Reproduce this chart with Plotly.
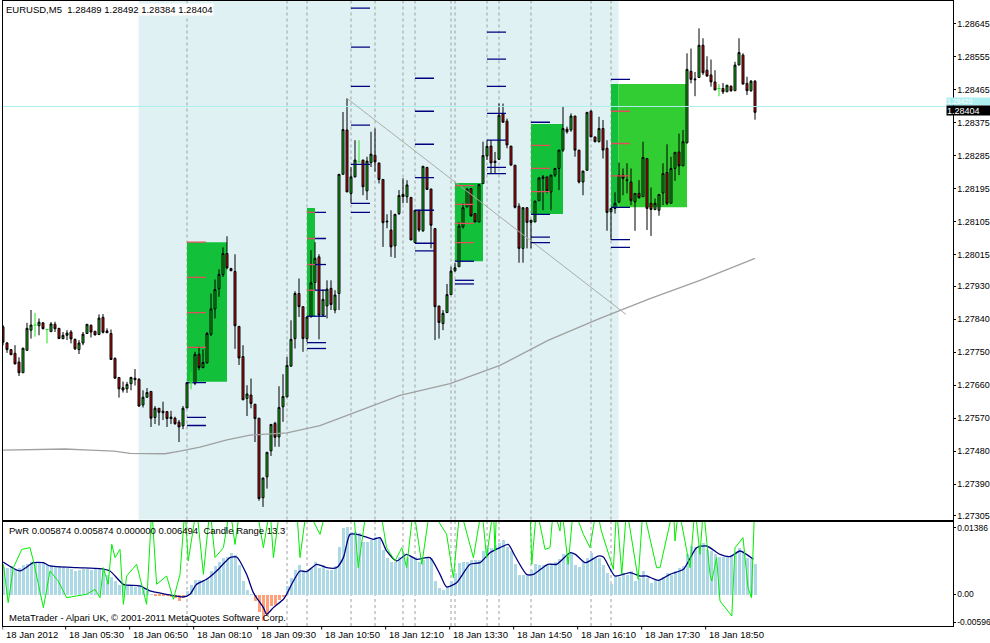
import plotly.graph_objects as go

W, H = 990, 643
FONT = "Liberation Sans"

# ---------------- data ----------------
time_tick_idx = [0, 15, 31, 47, 63, 79, 95, 111, 127, 143, 159, 175]
time_tick_text = ["18 Jan 2012", "18 Jan 05:30", "18 Jan 06:50", "18 Jan 08:10", "18 Jan 09:30",
                  "18 Jan 10:50", "18 Jan 12:10", "18 Jan 13:30", "18 Jan 14:50", "18 Jan 16:10",
                  "18 Jan 17:30", "18 Jan 18:50"]

open_ = [
    1.27819, 1.27775, 1.27757, 1.27747, 1.27723, 1.27694, 1.27755, 1.27810, 1.27824, 1.27822,
    1.27830, 1.27812, 1.27806, 1.27826, 1.27815, 1.27787, 1.27796, 1.27805, 1.27785, 1.27757,
    1.27775, 1.27801, 1.27823, 1.27807, 1.27798, 1.27845, 1.27808, 1.27801, 1.27733, 1.27681,
    1.27653, 1.27650, 1.27664, 1.27679, 1.27676, 1.27606, 1.27627, 1.27643, 1.27572, 1.27597,
    1.27589, 1.27588, 1.27573, 1.27570, 1.27559, 1.27549, 1.27598, 1.27667, 1.27665, 1.27744,
    1.27708, 1.27721, 1.27799, 1.27868, 1.27923, 1.27962, 1.28019, 1.27978, 1.27970, 1.27820,
    1.27738, 1.27624, 1.27633, 1.27608, 1.27570, 1.27353, 1.27410, 1.27481, 1.27556, 1.27519,
    1.27601, 1.27628, 1.27712, 1.27787, 1.27910, 1.27874, 1.27787, 1.27846, 1.27940, 1.28010,
    1.27851, 1.27876, 1.27924, 1.27865, 1.27910, 1.28235, 1.28356, 1.28183, 1.28228, 1.28269,
    1.28274, 1.28190, 1.28267, 1.28287, 1.28266, 1.28221, 1.28105, 1.28083, 1.28040, 1.28128,
    1.28174, 1.28174, 1.28172, 1.28049, 1.28137, 1.28081, 1.28254, 1.28195, 1.28087, 1.27876,
    1.27828, 1.27858, 1.27907, 1.27972, 1.27983, 1.28092, 1.28146, 1.28196, 1.28128, 1.28105,
    1.28210, 1.28285, 1.28312, 1.28271, 1.28276, 1.28401, 1.28380, 1.28312, 1.28260, 1.28148,
    1.28033, 1.28144, 1.28104, 1.28105, 1.28163, 1.28228, 1.28228, 1.28187, 1.28233, 1.28251,
    1.28301, 1.28358, 1.28356, 1.28394, 1.28301, 1.28214, 1.28246, 1.28407, 1.28337, 1.28324,
    1.28360, 1.28306, 1.28133, 1.28142, 1.28160, 1.28233, 1.28220, 1.28214, 1.28160, 1.28183,
    1.28174, 1.28278, 1.28156, 1.28139, 1.28137, 1.28184, 1.28240, 1.28156, 1.28251, 1.28296,
    1.28258, 1.28321, 1.28516, 1.28495, 1.28499, 1.28587, 1.28519, 1.28506, 1.28487, 1.28469,
    1.28469, 1.28460, 1.28475, 1.28463, 1.28533, 1.28560, 1.28483, 1.28463, 1.28489]

high = [
    1.27824, 1.27778, 1.27758, 1.27769, 1.27736, 1.27761, 1.27830, 1.27865, 1.27857, 1.27842,
    1.27832, 1.27812, 1.27832, 1.27833, 1.27816, 1.27805, 1.27810, 1.27810, 1.27787, 1.27783,
    1.27805, 1.27826, 1.27826, 1.27807, 1.27853, 1.27854, 1.27815, 1.27812, 1.27736, 1.27681,
    1.27670, 1.27669, 1.27683, 1.27704, 1.27679, 1.27646, 1.27652, 1.27643, 1.27603, 1.27597,
    1.27615, 1.27588, 1.27590, 1.27574, 1.27565, 1.27603, 1.27667, 1.27696, 1.27751, 1.27765,
    1.27758, 1.27805, 1.27910, 1.27948, 1.27976, 1.28036, 1.28066, 1.27980, 1.28017, 1.27822,
    1.27769, 1.27660, 1.27678, 1.27608, 1.27570, 1.27407, 1.27477, 1.27553, 1.27560, 1.27657,
    1.27690, 1.27737, 1.27837, 1.27916, 1.27951, 1.27874, 1.27848, 1.28028, 1.28050, 1.28017,
    1.27921, 1.27946, 1.27946, 1.27919, 1.28235, 1.28405, 1.28442, 1.28255, 1.28328, 1.28328,
    1.28274, 1.28283, 1.28351, 1.28360, 1.28266, 1.28221, 1.28126, 1.28137, 1.28126, 1.28192,
    1.28224, 1.28219, 1.28172, 1.28137, 1.28137, 1.28257, 1.28254, 1.28195, 1.28087, 1.27876,
    1.27865, 1.27936, 1.27983, 1.27994, 1.28105, 1.28156, 1.28196, 1.28196, 1.28128, 1.28207,
    1.28324, 1.28328, 1.28328, 1.28296, 1.28428, 1.28428, 1.28387, 1.28312, 1.28260, 1.28156,
    1.28144, 1.28144, 1.28110, 1.28162, 1.28228, 1.28233, 1.28228, 1.28233, 1.28251, 1.28301,
    1.28419, 1.28365, 1.28401, 1.28394, 1.28301, 1.28244, 1.28404, 1.28410, 1.28337, 1.28392,
    1.28383, 1.28328, 1.28142, 1.28186, 1.28267, 1.28251, 1.28265, 1.28251, 1.28183, 1.28219,
    1.28324, 1.28278, 1.28199, 1.28169, 1.28180, 1.28265, 1.28317, 1.28283, 1.28295, 1.28346,
    1.28356, 1.28565, 1.28578, 1.28514, 1.28633, 1.28606, 1.28557, 1.28548, 1.28519, 1.28481,
    1.28484, 1.28478, 1.28478, 1.28542, 1.28606, 1.28565, 1.28501, 1.28492, 1.28492]

low = [
    1.27769, 1.27748, 1.27742, 1.27717, 1.27685, 1.27693, 1.27755, 1.27787, 1.27792, 1.27796,
    1.27812, 1.27774, 1.27805, 1.27805, 1.27786, 1.27785, 1.27783, 1.27774, 1.27756, 1.27745,
    1.27769, 1.27801, 1.27790, 1.27796, 1.27797, 1.27801, 1.27803, 1.27730, 1.27678, 1.27626,
    1.27640, 1.27639, 1.27646, 1.27659, 1.27601, 1.27599, 1.27627, 1.27546, 1.27554, 1.27550,
    1.27565, 1.27546, 1.27554, 1.27552, 1.27505, 1.27540, 1.27598, 1.27649, 1.27660, 1.27701,
    1.27706, 1.27719, 1.27794, 1.27842, 1.27901, 1.27955, 1.27976, 1.27972, 1.27759, 1.27715,
    1.27620, 1.27576, 1.27597, 1.27505, 1.27345, 1.27328, 1.27378, 1.27467, 1.27492, 1.27492,
    1.27560, 1.27628, 1.27710, 1.27760, 1.27846, 1.27751, 1.27778, 1.27846, 1.27919, 1.27785,
    1.27848, 1.27842, 1.27865, 1.27856, 1.27865, 1.28235, 1.28187, 1.28156, 1.28227, 1.28269,
    1.28178, 1.28165, 1.28255, 1.28242, 1.28210, 1.28037, 1.28088, 1.28010, 1.28007, 1.28124,
    1.28156, 1.28157, 1.28056, 1.28047, 1.28078, 1.28078, 1.28192, 1.28033, 1.27783, 1.27787,
    1.27810, 1.27858, 1.27907, 1.27969, 1.27983, 1.28087, 1.28146, 1.28119, 1.28105, 1.28105,
    1.28208, 1.28274, 1.28237, 1.28237, 1.28274, 1.28377, 1.28306, 1.28260, 1.28142, 1.27994,
    1.27994, 1.28033, 1.28033, 1.28105, 1.28163, 1.28137, 1.28183, 1.28137, 1.28228, 1.28192,
    1.28296, 1.28346, 1.28351, 1.28283, 1.28210, 1.28178, 1.28246, 1.28337, 1.28322, 1.28322,
    1.28278, 1.28081, 1.28056, 1.28128, 1.28156, 1.28178, 1.28183, 1.28151, 1.28081, 1.28169,
    1.28174, 1.28083, 1.28067, 1.28137, 1.28122, 1.28151, 1.28151, 1.28156, 1.28217, 1.28233,
    1.28258, 1.28319, 1.28483, 1.28448, 1.28499, 1.28506, 1.28501, 1.28474, 1.28465, 1.28448,
    1.28454, 1.28460, 1.28460, 1.28463, 1.28533, 1.28481, 1.28451, 1.28460, 1.28384]

close = [
    1.27777, 1.27757, 1.27743, 1.27718, 1.27694, 1.27761, 1.27815, 1.27824, 1.27824, 1.27832,
    1.27814, 1.27812, 1.27827, 1.27814, 1.27787, 1.27796, 1.27802, 1.27786, 1.27759, 1.27775,
    1.27799, 1.27826, 1.27805, 1.27797, 1.27843, 1.27804, 1.27803, 1.27730, 1.27679, 1.27650,
    1.27647, 1.27662, 1.27681, 1.27675, 1.27603, 1.27627, 1.27640, 1.27570, 1.27597, 1.27586,
    1.27585, 1.27569, 1.27569, 1.27555, 1.27546, 1.27597, 1.27667, 1.27667, 1.27744, 1.27708,
    1.27722, 1.27801, 1.27868, 1.27921, 1.27962, 1.28019, 1.27980, 1.27972, 1.27822, 1.27734,
    1.27620, 1.27636, 1.27610, 1.27569, 1.27351, 1.27407, 1.27477, 1.27553, 1.27518, 1.27599,
    1.27629, 1.27714, 1.27785, 1.27910, 1.27874, 1.27787, 1.27846, 1.27939, 1.28006, 1.27851,
    1.27894, 1.27922, 1.27880, 1.27906, 1.28235, 1.28357, 1.28187, 1.28228, 1.28274, 1.28269,
    1.28201, 1.28271, 1.28290, 1.28269, 1.28221, 1.28103, 1.28107, 1.28037, 1.28126, 1.28177,
    1.28180, 1.28206, 1.28056, 1.28137, 1.28083, 1.28257, 1.28194, 1.28096, 1.27874, 1.27831,
    1.27856, 1.27907, 1.27971, 1.27980, 1.28094, 1.28144, 1.28195, 1.28122, 1.28105, 1.28207,
    1.28286, 1.28311, 1.28266, 1.28267, 1.28396, 1.28377, 1.28315, 1.28260, 1.28145, 1.28033,
    1.28144, 1.28104, 1.28110, 1.28162, 1.28225, 1.28224, 1.28190, 1.28233, 1.28251, 1.28301,
    1.28360, 1.28351, 1.28394, 1.28301, 1.28214, 1.28244, 1.28404, 1.28337, 1.28324, 1.28360,
    1.28301, 1.28131, 1.28142, 1.28156, 1.28233, 1.28224, 1.28218, 1.28163, 1.28183, 1.28171,
    1.28281, 1.28142, 1.28139, 1.28156, 1.28180, 1.28237, 1.28156, 1.28251, 1.28295, 1.28258,
    1.28324, 1.28521, 1.28494, 1.28493, 1.28587, 1.28512, 1.28503, 1.28487, 1.28465, 1.28469,
    1.28460, 1.28478, 1.28463, 1.28533, 1.28567, 1.28481, 1.28463, 1.28489, 1.28404]

doji_idx = [8, 11, 47, 89, 179]          # open == close, drawn as lime crosses

ma_idx = [0, 15.5, 21.75, 27.75, 31.75, 40.5, 44.25, 49.25, 56, 61.75, 71, 79.25,
          99.25, 111.75, 124.25, 136.25, 149.25, 161.75, 174.25, 188]
ma_val = [1.27483, 1.27486, 1.27483, 1.27480, 1.27474, 1.27473, 1.27480, 1.27491, 1.27511,
          1.27524, 1.27530, 1.27550, 1.27632, 1.27664, 1.27714, 1.27782, 1.27842, 1.27896,
          1.27946, 1.28006]

trend_idx = [86, 155.75]
trend_val = [1.28442, 1.27853]

hline_level = 1.28420
bid_price = 1.28404

shade_span = [33.9, 153.9]
dash_idx = [46, 71, 76, 87, 93, 100, 103, 112, 113, 121, 124, 132, 147, 152]

box_x0 = [46, 76, 113, 132, 152]
box_x1 = [56, 78, 120, 140, 171]
box_top = [1.28050, 1.28143, 1.28211, 1.28372, 1.28481]
box_bot = [1.27669, 1.27848, 1.27998, 1.28127, 1.28145]

red_x0 = [46, 46, 46, 46, 76, 76, 76, 76, 113, 113, 113, 113, 132, 132, 132, 152, 152, 152]
red_x1 = [50.75] * 4 + [78] * 4 + [117.75] * 4 + [136.75] * 3 + [156.75] * 3
red_price = [1.28050, 1.27954, 1.27858, 1.27763, 1.28131, 1.28060, 1.27989, 1.27919,
             1.28204, 1.28153, 1.28101, 1.28049, 1.28314, 1.28251, 1.28188,
             1.28407, 1.28319, 1.28231]

navy_x0 = ([46] * 3 + [76] * 3 + [78] * 4 + [87] * 7 + [103] * 7 + [113] * 3 + [121] * 7
           + [132] * 4 + [152] * 4)
navy_x1 = ([50.75] * 3 + [80.75] * 3 + [80.75] * 4 + [91.75] * 7 + [107.75] * 7 + [117.75] * 3
           + [125.75] * 7 + [136.75] * 4 + [156.75] * 4)
navy_price = [1.27667, 1.27572, 1.27550,
              1.27848, 1.27776, 1.27760,
              1.28131, 1.28060, 1.27989, 1.27919,
              1.28688, 1.28582, 1.28475, 1.28369, 1.28262, 1.28156, 1.28131,
              1.28497, 1.28407, 1.28317, 1.28226, 1.28137, 1.28047, 1.28026,
              1.27998, 1.27946, 1.27936,
              1.28623, 1.28549, 1.28475, 1.28401, 1.28328, 1.28254, 1.28237,
              1.28377, 1.28126, 1.28064, 1.28049,
              1.28494, 1.28145, 1.28057, 1.28036]

price_ticks = [1.28645, 1.28555, 1.28465, 1.28375, 1.28285, 1.28195, 1.28105, 1.28015,
               1.27930, 1.27840, 1.27750, 1.27660, 1.27570, 1.27480, 1.27390, 1.27305]

# indicator (PwR) histogram, one value per bar
pwr_hist = [
    0.00527, 0.00508, 0.00540, 0.00476, 0.00508, 0.00559, 0.00584, 0.00635, 0.00616, 0.00616,
    0.00603, 0.00572, 0.00559, 0.00540, 0.00540, 0.00521, 0.00508, 0.00489, 0.00445, 0.00476,
    0.00495, 0.00495, 0.00476, 0.00495, 0.00508, 0.00476, 0.00381, 0.00349, 0.00254, 0.00191,
    0.00178, 0.00159, 0.00159, 0.00140, 0.00159, 0.00127, 0.00076, 0.00013, -0.00032, -0.00013,
    -0.00032, -0.00032, -0.00051, -0.00064, -0.00114, -0.00051, 0.00064, 0.00178, 0.00286, 0.00286,
    0.00286, 0.00330, 0.00445, 0.00540, 0.00635, 0.00699, 0.00730, 0.00794, 0.00762, 0.00572,
    0.00254, 0.00095, 0.00013, -0.00114, -0.00318, -0.00495, -0.00381, -0.00222, -0.00191, -0.00095,
    -0.00051, 0.00159, 0.00318, 0.00476, 0.00572, 0.00476, 0.00445, 0.00508, 0.00635, 0.00508,
    0.00572, 0.00476, 0.00476, 0.00540, 0.00921, 0.01270, 0.01302, 0.01207, 0.01207, 0.01175,
    0.01016, 0.01016, 0.01048, 0.01111, 0.01080, 0.00857, 0.00699, 0.00635, 0.00635, 0.00730,
    0.00794, 0.00699, 0.00730, 0.00730, 0.00635, 0.00667, 0.00730, 0.00699, 0.00254, 0.00127,
    0.00095, 0.00159, 0.00254, 0.00413, 0.00603, 0.00635, 0.00635, 0.00667, 0.00667, 0.00667,
    0.00826, 0.00889, 0.00889, 0.00953, 0.00984, 0.01048, 0.00921, 0.00826, 0.00584, 0.00381,
    0.00381, 0.00381, 0.00476, 0.00584, 0.00572, 0.00572, 0.00572, 0.00603, 0.00635, 0.00686,
    0.00775, 0.00730, 0.00794, 0.00572, 0.00521, 0.00635, 0.00711, 0.00794, 0.00699, 0.00699,
    0.00572, 0.00413, 0.00203, 0.00381, 0.00349, 0.00413, 0.00381, 0.00445, 0.00254, 0.00330,
    0.00445, 0.00318, 0.00222, 0.00286, 0.00286, 0.00349, 0.00413, 0.00381, 0.00445, 0.00508,
    0.00540, 0.00775, 0.00940, 0.00921, 0.00953, 0.00984, 0.00857, 0.00826, 0.00775, 0.00730,
    0.00730, 0.00730, 0.00762, 0.00794, 0.00889, 0.00826, 0.00699, 0.00686, 0.00584]

signal_idx = [0, 4.25, 7.6, 10.1, 11.75, 18.4, 24.25, 26.75, 30.1, 34.25, 36.75, 40.9, 45.1, 46.75,
              48.4, 50.9, 53.4, 56.75, 58.4, 60.9, 62.6, 65.1, 65.9, 67.6, 70.1, 70.9, 72.6, 74.25,
              75.9, 78.4, 80.9, 83.4, 85.1, 86.75, 89.25, 92.6, 94.25, 95.9, 98.4, 100.9, 103.4,
              106.75, 109.25, 110.9, 113.4, 116.75, 119.25, 121.75, 124.25, 126.3, 128, 130.9,
              132.6, 136.2, 138.4, 141.8, 143.1, 145.6, 148.8, 150.1, 153, 156.75, 159.25, 160.9,
              163.8, 166.75, 170.1, 173.4, 175.9, 179.25, 181.75, 184.25, 187.6]
signal_val = [0.00616, 0.00445, 0.00603, 0.00603, 0.00540, 0.00508, 0.00489, 0.00445, 0.00191,
              0.00159, 0.00064, 0.0, -0.00051, 0.0, 0.00191, 0.00286, 0.00445, 0.00699, 0.00711,
              0.00381, 0.00032, -0.00254, -0.00381, -0.00254, -0.00095, 0.0, 0.00254, 0.00445,
              0.00432, 0.00572, 0.00508, 0.00508, 0.00699, 0.01143, 0.01130, 0.01048, 0.01080,
              0.00826, 0.00635, 0.00762, 0.00667, 0.00699, 0.00381, 0.00140, 0.00222, 0.00572,
              0.00603, 0.00794, 0.00889, 0.00953, 0.00730, 0.00381, 0.00381, 0.00572, 0.00572,
              0.00794, 0.00762, 0.00603, 0.00730, 0.00711, 0.00349, 0.00413, 0.00349, 0.00349,
              0.00267, 0.00381, 0.00476, 0.00889, 0.00921, 0.00762, 0.00718, 0.00826, 0.00667]

T = 0.0165  # value above the panel top (line clipped there)
range_idx = [0.1, 1.3, 2.6, 4.7, 6.75, 7.6, 10.1, 11.75, 13.8, 15.9, 18.4, 20.9, 23, 24.25, 25.1,
             26.3, 27.2, 28, 29.25, 30.1, 30.9, 33.4, 35.9, 37.2, 38.4, 40.9, 42.6, 44.25, 45.5,
             46.3, 48.4, 50.1, 51.75, 53.0, 55.1, 56.75, 58.0, 59.25, 61.75, 63.4, 65.1, 66.75,
             67.6, 69.25, 71.75, 73.4, 74.25, 75.9, 79.25, 80.9, 87.6, 88.8, 90.9, 94.25, 95.9,
             98, 99.7, 100.9, 102.6, 104.7, 106.75, 110.9, 112.6, 114.25, 117.6, 119.7, 120.9,
             122.6, 123.0, 123.4, 131.75, 132.2, 133.4, 135.5, 136.75, 137.6, 139.25, 139.7,
             141.3, 142.6, 145.1, 146.75, 148.4, 149.6, 152.6, 153.4, 154.7, 155.9, 158.8, 160,
             163.4, 164.25, 167.6, 168, 168.9, 171.75, 173, 174.25, 175.1, 176.75, 177.2, 178.4,
             179.25, 182.2, 183, 184.6, 185, 186.25, 187.1, 187.9]
range_val = [0.00572, -0.00159, 0.00508, 0.00857, 0.00889, 0.00635, -0.00254, 0.00445, 0.00254,
             -0.00064, -0.00032, 0.0, 0.00095, -0.00064, 0.00508, 0.00191, 0.00953, 0.00699,
             0.00857, -0.00191, 0.00349, 0.00572, -0.00191, T, 0.00191, 0.00349, -0.00095,
             0.00381, T, 0.00635, T, 0.00381, T, 0.00700, 0.00889, T, 0.00950, T, T, T, 0.00889,
             T, 0.00699, T, T, T, 0.00699, T, 0.01143, T, T, 0.00508, T, T, 0.00889, 0.00635,
             0.00889, 0.00508, T, 0.00572, T, 0.01143, 0.00318, T, 0.00699, T, 0.00699, T,
             0.00826, T, T, 0.00572, T, 0.00857, 0.00889, T, 0.01207, T, 0.00572, T, 0.01143,
             0.00889, T, 0.01207, 0.00476, T, 0.00381, T, 0.00286, T, 0.00508, 0.00508, T,
             0.01016, T, 0.00508, T, 0.00762, T, 0.00381, 0.00254, 0.00699, -0.00127, -0.00413,
             0.00889, 0.01048, 0.01080, 0.00127, -0.00064, T]

ind_tick_vals = [0.01267, 0.0, -0.00528]
ind_tick_text = ["0.01386", "0.00", "-0.00596"]

# ---------------- geometry ----------------
def py(v):  # pixel row -> paper fraction
    return 1 - v / H

XD = [2.5 / W, 952.5 / W]
XR = [-0.125, 237.375]
YD_MAIN = [py(519.5), py(0.5)]
YR_MAIN = [1.272937, 1.287090]
YD_IND = [py(626), py(521.5)]
YR_IND = [-0.00604, 0.01388]

SHADE = "#DFF1F3"
BOX_IN = "#12C03A"
BOX_OUT = "#32CD32"
fig = go.Figure()

# ---------------- shapes ----------------
shapes = [dict(type="rect", xref="x", yref="y domain", x0=shade_span[0], x1=shade_span[1],
               y0=0, y1=1, fillcolor=SHADE, line_width=0, layer="below")]
for d in dash_idx:
    shapes.append(dict(type="line", xref="x", yref="y domain", x0=d, x1=d, y0=0, y1=1,
                       line=dict(color="#A0A0A0", width=1, dash="3px,3px"), layer="below"))
    shapes.append(dict(type="line", xref="x2", yref="y2 domain", x0=d, x1=d, y0=0, y1=1,
                       line=dict(color="#A0A0A0", width=1, dash="3px,3px"), layer="below"))
for x0, x1, t, b in zip(box_x0, box_x1, box_top, box_bot):
    cut = min(max(shade_span[1], x0), x1)
    if cut > x0:
        shapes.append(dict(type="rect", xref="x", yref="y", x0=x0, x1=cut, y0=b, y1=t,
                           fillcolor=BOX_IN, line_width=0, layer="below"))
    if x1 > cut:
        shapes.append(dict(type="rect", xref="x", yref="y", x0=cut, x1=x1, y0=b, y1=t,
                           fillcolor=BOX_OUT, line_width=0, layer="below"))
for k, ti in enumerate(time_tick_idx):
    off = -0.1 if k == 0 else 0.67
    shapes.append(dict(type="line", xref="x2", yref="paper", x0=ti + off, x1=ti + off,
                       y0=py(626), y1=py(629.5), line=dict(color="black", width=1)))

# ---------------- main traces ----------------
def seg_trace(x0s, x1s, ys, color, width=1.3):
    xs, yv = [], []
    for a, b, p in zip(x0s, x1s, ys):
        xs += [a, b, None]
        yv += [p, p, None]
    return go.Scatter(x=xs, y=yv, mode="lines", line=dict(color=color, width=width),
                      hoverinfo="skip", xaxis="x", yaxis="y")

fig.add_trace(go.Scatter(x=XR, y=[hline_level, hline_level], mode="lines",
                         line=dict(color="#AFEEEE", width=1), hoverinfo="skip"))
fig.add_trace(go.Scatter(x=ma_idx, y=ma_val, mode="lines",
                         line=dict(color="#A0A0A0", width=1.3), hoverinfo="skip"))
fig.add_trace(go.Scatter(x=trend_idx, y=trend_val, mode="lines",
                         line=dict(color="#ABABAB", width=1), hoverinfo="skip"))
fig.add_trace(seg_trace(navy_x0, navy_x1, navy_price, "#000080"))
fig.add_trace(seg_trace(red_x0, red_x1, red_price, "#E0505A"))

cx, co, chh, cl, cc = [], [], [], [], []
for i in range(len(open_)):
    if i in doji_idx:
        continue
    cx.append(i); co.append(open_[i]); chh.append(high[i]); cl.append(low[i]); cc.append(close[i])
fig.add_trace(go.Candlestick(
    x=cx, open=co, high=chh, low=cl, close=cc, xaxis="x", yaxis="y",
    increasing=dict(fillcolor="#1FC41F", line=dict(color="black", width=1)),
    decreasing=dict(fillcolor="#CC1414", line=dict(color="black", width=1)),
    whiskerwidth=0, hoverinfo="skip"))

dx, dy = [], []
for i in doji_idx:
    dx += [i, i, None, i - 0.4, i + 0.4, None]
    dy += [low[i], high[i], None, open_[i], open_[i], None]
fig.add_trace(go.Scatter(x=dx, y=dy, mode="lines", line=dict(color="#22E022", width=1),
                         hoverinfo="skip"))

# ---------------- indicator traces ----------------
fig.add_trace(go.Bar(x=list(range(len(pwr_hist))), y=pwr_hist, width=0.6,
                     marker=dict(color=["#ADD8E6" if v >= 0 else "#FFA07A" for v in pwr_hist],
                                 line_width=0),
                     xaxis="x2", yaxis="y2", hoverinfo="skip"))
fig.add_trace(go.Scatter(x=signal_idx, y=signal_val, mode="lines",
                         line=dict(color="#000080", width=1.3, shape="spline", smoothing=0.6),
                         xaxis="x2", yaxis="y2", hoverinfo="skip"))
fig.add_trace(go.Scatter(x=range_idx, y=range_val, mode="lines",
                         line=dict(color="#00EE00", width=1),
                         xaxis="x2", yaxis="y2", hoverinfo="skip"))

# ---------------- annotations ----------------
tf = dict(family=FONT, size=9.5, color="black")
af = dict(family=FONT, size=9, color="black")
ann = []
for k, (ti, tt) in enumerate(zip(time_tick_idx, time_tick_text)):
    ann.append(dict(x=ti, xref="x", y=py(634), yref="paper", text=tt, showarrow=False,
                    xanchor="left", yanchor="middle", xshift=0.5 if k == 0 else 3.5, font=tf))
ann.append(dict(x=5 / W, xref="paper", y=py(9.5), yref="paper",
                text="EURUSD,M5&nbsp; 1.28489 1.28492 1.28384 1.28404", showarrow=False,
                xanchor="left", yanchor="middle", font=tf, bgcolor="white", borderpad=0))
ann.append(dict(x=7 / W, xref="paper", y=py(530), yref="paper",
                text="PwR 0.005874 0.005874 0.000000 0.006494&nbsp; Candle Range 13.3",
                showarrow=False, xanchor="left", yanchor="middle", font=tf))
ann.append(dict(x=7 / W, xref="paper", y=py(617), yref="paper",
                text="MetaTrader - Alpari UK, © 2001-2011 MetaQuotes Software Corp.",
                showarrow=False, xanchor="left", yanchor="middle", font=tf))
ann.append(dict(x=946 / W, xref="paper", y=py(101.5), yref="paper",
                text="1.28420", showarrow=False, xanchor="left", yanchor="middle",
                font=dict(family=FONT, size=7, color="white"), bgcolor="#AFEEEE",
                width=43, height=7, align="left", borderpad=0))
ann.append(dict(x=946 / W, xref="paper", y=py(110), yref="paper",
                text="1.28404", showarrow=False, xanchor="left", yanchor="middle",
                font=dict(family=FONT, size=9, color="white"), bgcolor="black",
                width=43, height=9, align="left", borderpad=0))

axis_common = dict(showline=True, mirror=True, linecolor="black", linewidth=1,
                   showgrid=False, zeroline=False, fixedrange=True)
fig.update_layout(
    width=W, height=H, margin=dict(l=0, r=0, t=0, b=0, autoexpand=False),
    paper_bgcolor="white", plot_bgcolor="white",
    showlegend=False, hovermode=False, bargap=0,
    shapes=shapes, annotations=ann,
    xaxis=dict(domain=XD, range=XR, anchor="y", showticklabels=False, ticks="",
               rangeslider=dict(visible=False), automargin=False, **axis_common),
    xaxis2=dict(domain=XD, range=XR, anchor="y2", matches="x", showticklabels=False, ticks="",
                automargin=False, **axis_common),
    yaxis=dict(domain=YD_MAIN, range=YR_MAIN, anchor="x", side="right",
               tickvals=price_ticks, ticktext=["%.5f" % v for v in price_ticks],
               ticks="outside", ticklen=2, tickcolor="black", tickfont=af,
               automargin=False, **axis_common),
    yaxis2=dict(domain=YD_IND, range=YR_IND, anchor="x2", side="right",
                tickvals=ind_tick_vals, ticktext=ind_tick_text,
                ticks="outside", ticklen=2, tickcolor="black", tickfont=dict(family=FONT, size=8.5, color="black"),
                automargin=False, **axis_common),
)

fig.write_html("out.html", config={"displayModeBar": False})
